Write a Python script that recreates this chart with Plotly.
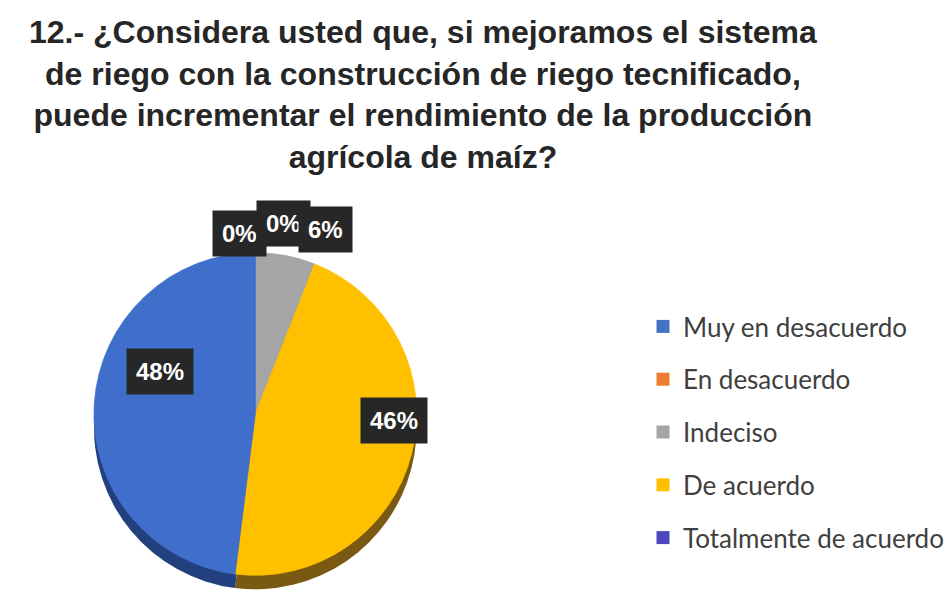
import plotly.graph_objects as go

# Survey answers, question 12
categories = ["Muy en desacuerdo", "En desacuerdo", "Indeciso", "De acuerdo", "Totalmente de acuerdo"]
percentages = [0, 0, 6, 46, 48]

slice_colors = ["#4472C4", "#ED7D31", "#A5A5A5", "#FFC000", "#3F6FCB"]
side_colors = ["#23407A", "#8A4515", "#6A6A6A", "#7A5A12", "#22407E"]
legend_colors = ["#4472C4", "#ED7D31", "#A5A5A5", "#FFC000", "#4B47BF"]

title_text = ("12.- ¿Considera usted que, si mejoramos el sistema<br>"
              "de riego con la construcción de riego tecnificado,<br>"
              "puede incrementar el rendimiento de la producción<br>"
              "agrícola de maíz?")

W, H = 949, 593
cx, cy, r, depth = 258, 414, 163, 14


def px(x):
    return x / W


def py(y):
    return min(1.0, max(0.0, 1 - y / H))


fig = go.Figure()

# darker copy shifted down gives the pie its thickness
fig.add_trace(go.Pie(
    labels=categories, values=percentages, sort=False, direction="clockwise",
    rotation=0, marker=dict(colors=side_colors, line=dict(width=0)),
    textinfo="none", hoverinfo="skip", showlegend=False,
    domain=dict(x=[px(cx - r), px(cx + r)], y=[py(cy + r + depth), py(cy - r + depth)]),
))

fig.add_trace(go.Pie(
    labels=categories, values=percentages, sort=False, direction="clockwise",
    rotation=0, marker=dict(colors=slice_colors, line=dict(width=0.8, color=slice_colors)),
    textinfo="none", showlegend=False,
    domain=dict(x=[px(cx - r), px(cx + r)], y=[py(cy + r), py(cy - r)]),
))

# legend entries
for name, col in zip(categories, legend_colors):
    fig.add_trace(go.Scatter(
        x=[None], y=[None], mode="markers", name=name, legendgroup=name,
        marker=dict(symbol="square", size=13, color=col),
    ))

# boxed percentage labels
label_pos = [(214, 233), (259, 223), (329, 229), (398, 444), (127, 371)]
for (lx, ly), v in zip(label_pos, percentages):
    fig.add_annotation(
        x=px(lx), y=py(ly), xref="paper", yref="paper", showarrow=False,
        text=f"<b>{v}%</b>", font=dict(family="Liberation Sans", size=24, color="white"),
        bgcolor="#272727", borderpad=9,
    )

fig.add_annotation(
    x=px(428), y=py(12), xref="paper", yref="paper", xanchor="center", yanchor="top",
    showarrow=False, text=f"<b>{title_text}</b>", align="center",
    font=dict(family="Liberation Sans", size=32, color="#262626"),
)

fig.update_layout(
    width=W, height=H, margin=dict(l=0, r=0, t=0, b=0),
    paper_bgcolor="white", plot_bgcolor="white",
    xaxis=dict(visible=False), yaxis=dict(visible=False),
    legend=dict(x=px(650), y=py(303), xanchor="left", yanchor="top",
                font=dict(family="Lato", size=26, color="#404040"),
                tracegroupgap=16, itemwidth=30, bgcolor="rgba(0,0,0,0)"),
)

fig.write_html("out.html")
